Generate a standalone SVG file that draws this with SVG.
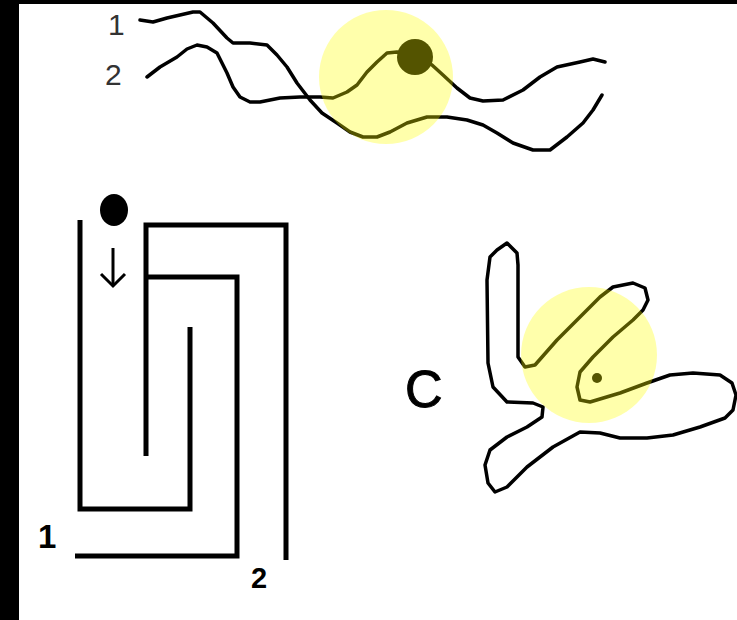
<svg xmlns="http://www.w3.org/2000/svg" width="737" height="620" viewBox="0 0 737 620">
<style>
.ln{fill:none;stroke:#000;stroke-width:3.5;stroke-linejoin:round;stroke-linecap:round}
.mz{fill:none;stroke:#000;stroke-width:5;stroke-linejoin:miter;stroke-linecap:butt}
.hl{fill:#ffff00;fill-opacity:0.33}
.lbl{font-family:"Liberation Sans",Arial,sans-serif}
</style>
<rect x="0" y="0" width="737" height="620" fill="#fff"/>
<rect x="0" y="0" width="19" height="620" fill="#000"/>
<rect x="0" y="0" width="737" height="4" fill="#000"/>

<g id="top">
<text class="lbl" x="108" y="35" font-size="30" fill="#333">1</text>
<text class="lbl" x="105" y="85" font-size="30" fill="#333">2</text>
<polyline class="ln" points="140,20 153,22 167,18 180,15 193,12 200,12 213,23 227,38 233,43 250,43 267,45 277,55 287,67 297,83 310,100 322,113 337,123 350,132 363,137 377,137 390,132 407,123 427,117 447,117 467,120 483,125 497,133 513,143 533,150 550,150 567,137 583,123 593,110 602,95"/>
<polyline class="ln" points="147,77 160,67 177,57 187,49 197,45 207,47 217,53 227,73 233,87 240,97 250,102 260,102 280,98 300,97 320,97 333,98 347,92 357,85 367,72 377,62 387,53 397,52 410,55 420,58 432,65 443,75 457,88 470,98 483,101 503,100 523,90 540,77 557,67 580,62 593,59 605,62"/>
<circle cx="415" cy="57" r="18" fill="#000"/>
<circle class="hl" cx="386" cy="77" r="67"/>
</g>

<g id="maze">
<ellipse cx="114" cy="210" rx="14" ry="16" fill="#000"/>
<line x1="113" y1="248" x2="113" y2="285" stroke="#000" stroke-width="3"/>
<polyline points="101,274 113,286 125,274" fill="none" stroke="#000" stroke-width="3"/>
<path class="mz" d="M80,220 V509 H190 V327"/>
<path class="mz" d="M146,456 V225 H286 V560"/>
<path class="mz" d="M146,277 H237 V556 H75"/>
<text class="lbl" x="38" y="548" font-size="33" font-weight="bold">1</text>
<text class="lbl" x="251" y="588" font-size="29" font-weight="bold">2</text>
</g>

<g id="blob">
<text class="lbl" x="405" y="407" font-size="52" stroke="#000" stroke-width="1">C</text>
<polygon class="ln" points="507,243 517,253 518,265 518,313 518,357 525,367 535,365 557,340 580,317 600,297 613,287 633,283 645,288 648,300 643,310 633,320 613,337 593,357 580,372 577,387 580,400 590,402 620,393 647,383 670,375 693,373 720,375 732,383 736,395 733,410 725,418 700,427 673,435 647,438 620,438 600,433 580,432 553,447 527,467 507,487 495,492 488,483 485,465 490,450 507,437 527,427 542,417 543,407 533,403 507,402 493,387 488,363 487,280 490,257 497,250"/>
<circle cx="597" cy="378" r="5" fill="#000"/>
<circle class="hl" cx="589" cy="355" r="68"/>
</g>
</svg>
